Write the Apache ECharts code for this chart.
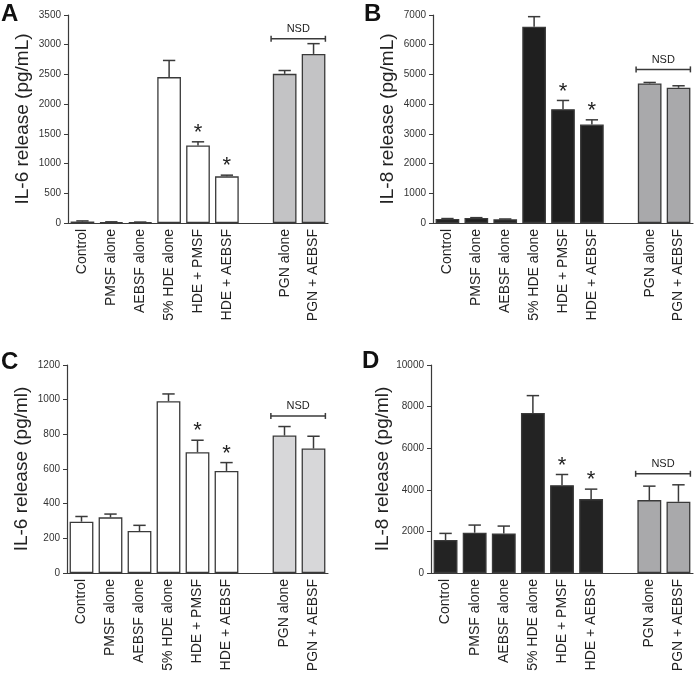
<!DOCTYPE html>
<html><head><meta charset="utf-8">
<script src="https://cdn.jsdelivr.net/npm/echarts@6/dist/echarts.min.js"></script>
<style>html,body{margin:0;padding:0;background:#fff}#c{width:695px;height:676px}</style>
</head><body><div id="c"></div>
<script>
// ---- data ----
const categories = ['Control','PMSF alone','AEBSF alone','5% HDE alone','HDE + PMSF','HDE + AEBSF','','PGN alone','PGN + AEBSF'];
const meanA = [25, 15, 12, 2455, 1305, 785, null, 2510, 2845];
const upperA = [35, 20, 16, 2735, 1366, 805, null, 2566, 3018];
const meanB = [135, 168, 124, 6607, 3831, 3315, null, 4697, 4551];
const upperB = [150, 180, 135, 6944, 4124, 3472, null, 4730, 4618];
const meanC = [296, 321, 242, 991, 697, 589, null, 793, 718];
const upperC = [326, 340, 275, 1033, 766, 637, null, 845, 789];
const meanD = [1584, 1936, 1904, 7696, 4224, 3552, null, 3504, 3424];
const upperD = [1904, 2304, 2256, 8528, 4736, 4032, null, 4176, 4240];
const starIdx = [4, 5];
const nsdFrom = 7, nsdTo = 8;
const nsdA = 3100, nsdB = 5170, nsdC = 906, nsdD = 4770;
const yMaxA = 3500, yStepA = 500;
const yMaxB = 7000, yStepB = 1000;
const yMaxC = 1200, yStepC = 200;
const yMaxD = 10000, yStepD = 2000;
const yNameA = 'IL-6 release (pg/mL)', yNameB = 'IL-8 release (pg/mL)';
const yNameC = 'IL-6 release (pg/ml)', yNameD = 'IL-8 release (pg/ml)';

// ---- styles ----
const FONT = '"Liberation Sans", Arial, Helvetica, sans-serif';
const EDGE = '#3a3a3a';
const panels = [
  {mean: meanA, upper: upperA, nsd: nsdA, max: yMaxA, step: yStepA, name: yNameA, main: '#ffffff', pgn: '#c3c3c5', grid: {left: 68, top: 15, width: 260, height: 208}, letter: 'A', lx: 1, ly: 2},
  {mean: meanB, upper: upperB, nsd: nsdB, max: yMaxB, step: yStepB, name: yNameB, main: '#1f1f1f', pgn: '#a9a9ab', grid: {left: 433, top: 15, width: 260, height: 208}, letter: 'B', lx: 364, ly: 2},
  {mean: meanC, upper: upperC, nsd: nsdC, max: yMaxC, step: yStepC, name: yNameC, main: '#ffffff', pgn: '#d7d7d9', grid: {left: 67, top: 365, width: 261, height: 208}, letter: 'C', lx: 1, ly: 350},
  {mean: meanD, upper: upperD, nsd: nsdD, max: yMaxD, step: yStepD, name: yNameD, main: '#232323', pgn: '#a9a9ab', grid: {left: 431, top: 365, width: 262, height: 208}, letter: 'D', lx: 362, ly: 349}
];

function errRender(params, api) {
  const i = api.value(0), m = api.value(1), u = api.value(2);
  const top = api.coord([i, u]), base = api.coord([i, m]);
  const hw = api.size([1, 0])[0] * 0.82 * 0.26;
  const st = {stroke: EDGE, lineWidth: 1.5};
  return {type: 'group', children: [
    {type: 'line', shape: {x1: top[0], y1: base[1], x2: top[0], y2: top[1]}, style: st},
    {type: 'line', shape: {x1: top[0] - hw, y1: top[1], x2: top[0] + hw, y2: top[1]}, style: st}
  ]};
}
function starRender(params, api) {
  const p = api.coord([api.value(0), api.value(1)]);
  return {type: 'text', x: p[0], y: p[1] + 2, style: {text: '*', fontSize: 22, fontFamily: FONT, fill: '#222', textAlign: 'center', textVerticalAlign: 'bottom'}};
}
function nsdRender(params, api) {
  const y = api.value(1);
  const band = api.size([1, 0])[0];
  const a = api.coord([api.value(0), y]), b = api.coord([api.value(2), y]);
  const x1 = a[0] - band * 0.47, x2 = b[0] + band * 0.41;
  const st = {stroke: EDGE, lineWidth: 1.5};
  return {type: 'group', children: [
    {type: 'line', shape: {x1: x1, y1: a[1], x2: x2, y2: a[1]}, style: st},
    {type: 'line', shape: {x1: x1, y1: a[1] - 3, x2: x1, y2: a[1] + 3}, style: st},
    {type: 'line', shape: {x1: x2, y1: a[1] - 3, x2: x2, y2: a[1] + 3}, style: st},
    {type: 'text', x: (x1 + x2) / 2, y: a[1] - 4, style: {text: 'NSD', fontSize: 11, fontFamily: FONT, fill: '#222', textAlign: 'center', textVerticalAlign: 'bottom'}}
  ]};
}

const option = {animation: false, grid: [], xAxis: [], yAxis: [], series: [], graphic: []};
panels.forEach((p, k) => {
  option.grid.push(p.grid);
  option.xAxis.push({
    type: 'category', gridIndex: k, data: categories,
    axisLine: {lineStyle: {color: EDGE, width: 1.2}},
    axisTick: {alignWithLabel: true, length: 4, interval: 0, lineStyle: {color: EDGE}},
    axisLabel: {rotate: 90, interval: 0, fontSize: 14, margin: 6, color: '#222', fontFamily: FONT}
  });
  option.yAxis.push({
    type: 'value', gridIndex: k, min: 0, max: p.max, interval: p.step,
    name: p.name, nameLocation: 'middle', nameGap: 36,
    nameTextStyle: {fontSize: 19, color: '#222', fontFamily: FONT},
    splitLine: {show: false},
    axisLine: {show: true, lineStyle: {color: EDGE, width: 1.2}},
    axisTick: {show: true, length: 4, lineStyle: {color: EDGE}},
    axisLabel: {fontSize: 10, margin: 7, color: '#333', fontFamily: FONT, formatter: v => String(v)}
  });
  option.series.push({
    type: 'bar', xAxisIndex: k, yAxisIndex: k, barCategoryGap: '18%',
    data: p.mean.map((v, i) => v == null ? '-' : {value: v, itemStyle: {color: i < 6 ? p.main : p.pgn}}),
    itemStyle: {borderColor: EDGE, borderWidth: 1.3}
  });
  option.series.push({
    type: 'custom', xAxisIndex: k, yAxisIndex: k, renderItem: errRender, z: 3,
    encode: {x: 0, y: [1, 2]},
    data: p.mean.map((v, i) => v == null ? null : [i, v, p.upper[i]]).filter(d => d)
  });
  option.series.push({
    type: 'custom', xAxisIndex: k, yAxisIndex: k, renderItem: starRender, z: 3,
    encode: {x: 0, y: 1},
    data: starIdx.map(i => [i, p.upper[i]])
  });
  option.series.push({
    type: 'custom', xAxisIndex: k, yAxisIndex: k, renderItem: nsdRender, z: 3,
    encode: {x: 0, y: 1},
    data: [[nsdFrom, p.nsd, nsdTo]]
  });
  option.graphic.push({type: 'text', left: p.lx, top: p.ly, style: {text: p.letter, fontSize: 24, fontWeight: 'bold', fontFamily: FONT, fill: '#111'}});
});

const chart = echarts.init(document.getElementById('c'), null, {renderer: 'canvas'});
chart.setOption(option);
</script>
</body></html>
